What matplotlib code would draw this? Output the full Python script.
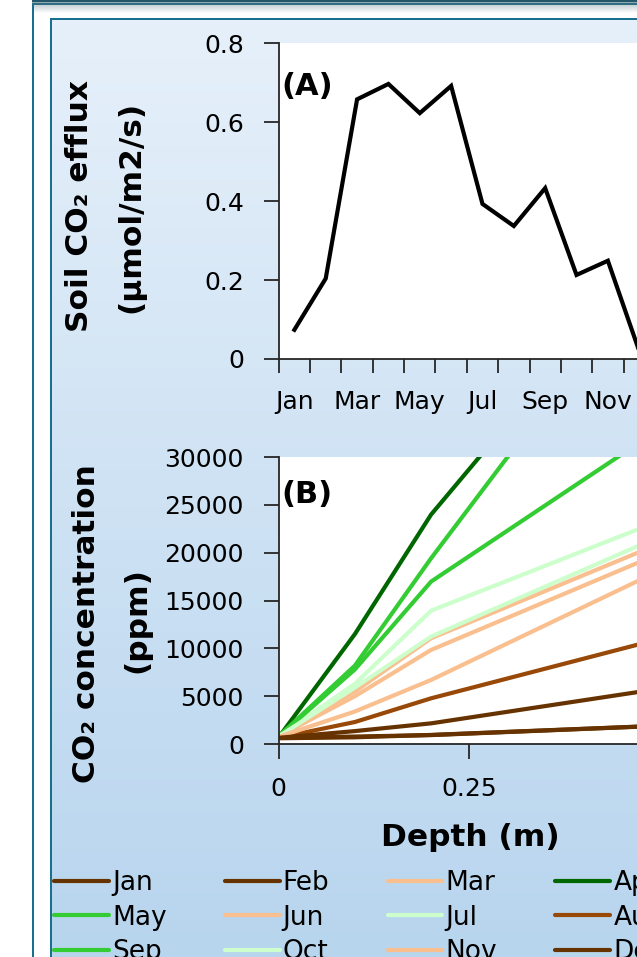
import numpy as np
import matplotlib
matplotlib.use('Agg')
import matplotlib.pyplot as plt
from matplotlib.patches import Rectangle
from matplotlib.colors import LinearSegmentedColormap

# ---------------- data ----------------
months = ['Jan', 'Feb', 'Mar', 'Apr', 'May', 'Jun',
          'Jul', 'Aug', 'Sep', 'Oct', 'Nov', 'Dec']
efflux = [0.074, 0.204, 0.658, 0.697, 0.623, 0.692,
          0.393, 0.337, 0.433, 0.213, 0.249, 0.02]
efflux_yticks = [0, 0.2, 0.4, 0.6, 0.8]
efflux_yticklabels = ['0', '0.2', '0.4', '0.6', '0.8']

depths = [0, 0.1, 0.2, 0.5]
co2_jan = [600, 700, 950, 1910]
co2_feb = [650, 780, 930, 1900]
co2_mar = [800, 5500, 11060, 20960]
co2_apr = [700, 11500, 24000, 52500]
co2_may = [800, 8200, 19430, 51100]
co2_jun = [800, 5000, 9840, 19920]
co2_jul = [800, 6300, 13950, 23350]
co2_aug = [650, 2300, 4780, 10990]
co2_sep = [800, 7800, 16990, 32950]
co2_oct = [800, 5900, 11240, 21700]
co2_nov = [750, 3400, 6700, 18150]
co2_dec = [650, 1350, 2160, 5780]
co2_yticks = [0, 5000, 10000, 15000, 20000, 25000, 30000]
depth_ticks = [0, 0.25]
depth_ticklabels = ['0', '0.25']

brown_dk = '#663300'
peach = '#FABF8F'
green_dk = '#006600'
green = '#33CC33'
green_lt = '#CCFFCC'
brown = '#984807'
month_colors = [brown_dk, brown_dk, peach, green_dk, green, peach,
                green_lt, brown, green, green_lt, peach, brown_dk]
co2_series = [co2_jan, co2_feb, co2_mar, co2_apr, co2_may, co2_jun,
              co2_jul, co2_aug, co2_sep, co2_oct, co2_nov, co2_dec]

# ---------------- figure ----------------
W, H = 637, 957
fig = plt.figure(figsize=(W / 100, H / 100), dpi=100)
plt.rcParams['font.family'] = ['DejaVu Sans']

def fx(px):
    return px / W

def fy(py):
    return 1 - py / H

# background decoration (pixel coordinates)
bg = fig.add_axes([0, 0, 1, 1], zorder=-10)
bg.set_xlim(0, W)
bg.set_ylim(H, 0)
bg.axis('off')
teal = '#19708E'
cm_panel = LinearSegmentedColormap.from_list('p', ['#E6F0FA', '#B8D5EE'])
grad = np.linspace(0, 1, 256).reshape(-1, 1)
bg.imshow(grad, extent=[52, W, H, 20], aspect='auto', cmap=cm_panel,
          origin='upper', interpolation='bilinear')
bg.add_patch(Rectangle((50, 18), 2, H - 18, color=teal, lw=0))
bg.add_patch(Rectangle((50, 18), W - 50, 2, color=teal, lw=0))
bg.add_patch(Rectangle((32, 3), 2, H - 3, color=teal, lw=0))
bg.add_patch(Rectangle((32, 0), W - 32, 1.5, color='#24566A', lw=0))
bg.add_patch(Rectangle((32, 1.5), W - 32, 1.5, color='#8EA8B2', lw=0))
bg.add_patch(Rectangle((32, 3), W - 32, 2, color='#2F6D82', lw=0))
cm_fade = LinearSegmentedColormap.from_list('f', ['#C5D1D6', '#FFFFFF'])
bg.imshow(grad, extent=[34, W, 13, 5], aspect='auto', cmap=cm_fade,
          origin='upper', interpolation='bilinear')

axis_col = '#262626'
tick_fs = 18
lab_fs = 22.5

# ---------------- panel A ----------------
ax_left = 278.7
a_top, a_bot = 43.3, 359.0
cat_w = 31.35
ax_a = fig.add_axes([fx(ax_left), fy(a_bot), 12 * cat_w / W, (a_bot - a_top) / H])
x_idx = np.arange(len(months))
ax_a.plot(x_idx, efflux, color='black', lw=3, solid_joinstyle='miter')
ax_a.set_xlim(-0.5, 11.5)
ax_a.set_ylim(0, 0.8)
ax_a.set_yticks(efflux_yticks)
ax_a.set_yticklabels(efflux_yticklabels)
ax_a.set_xticks(x_idx[::2])
ax_a.set_xticklabels(months[::2])
ax_a.set_xticks(np.arange(-0.5, 12, 1), minor=True)
ax_a.tick_params(axis='x', which='major', length=0, pad=22, labelsize=tick_fs)
ax_a.tick_params(axis='x', which='minor', length=10, width=1.3, color=axis_col)
ax_a.tick_params(axis='y', length=11, width=1.3, color=axis_col, pad=14,
                 labelsize=tick_fs)
for s in ['top', 'right']:
    ax_a.spines[s].set_visible(False)
for s in ['left', 'bottom']:
    ax_a.spines[s].set_color(axis_col)
    ax_a.spines[s].set_linewidth(1.3)
ax_a.annotate('(A)', xy=(0, 1), xycoords='axes fraction', xytext=(2, -20.5),
              textcoords='offset points', ha='left', va='top',
              fontsize=22, fontweight='bold')

fig.text(fx(79), fy(206.5), 'Soil CO\u2082 efflux', rotation=90, ha='center',
         va='center', fontsize=lab_fs, fontweight='bold')
fig.text(fx(130.5), fy(206.5), '(\u00b5mol/m2/s)', rotation=90, ha='center',
         va='center', fontsize=lab_fs, fontweight='bold')

# ---------------- panel B ----------------
b_top, b_bot = 457.2, 744.0
px_per_m = 762.0
ax_b = fig.add_axes([fx(ax_left), fy(b_bot), 0.5 * px_per_m / W, (b_bot - b_top) / H])
for name, vals, col in zip(months, co2_series, month_colors):
    ax_b.plot(depths, vals, color=col, lw=3, label=name, solid_capstyle='round')
ax_b.set_xlim(0, 0.5)
ax_b.set_ylim(0, 30000)
ax_b.set_yticks(co2_yticks)
ax_b.set_yticklabels([str(v) for v in co2_yticks])
ax_b.set_xticks(depth_ticks)
ax_b.set_xticklabels(depth_ticklabels)
ax_b.tick_params(axis='x', length=11, width=1.3, color=axis_col, pad=12.5,
                 labelsize=tick_fs)
ax_b.tick_params(axis='y', length=11, width=1.3, color=axis_col, pad=14,
                 labelsize=tick_fs)
for s in ['top', 'right']:
    ax_b.spines[s].set_visible(False)
for s in ['left', 'bottom']:
    ax_b.spines[s].set_color(axis_col)
    ax_b.spines[s].set_linewidth(1.3)
ax_b.annotate('(B)', xy=(0, 1), xycoords='axes fraction', xytext=(2, -16.5),
              textcoords='offset points', ha='left', va='top',
              fontsize=22, fontweight='bold')

fig.text(fx(86.5), fy(624), 'CO\u2082 concentration', rotation=90, ha='center',
         va='center', fontsize=lab_fs, fontweight='bold')
fig.text(fx(137), fy(620), '(ppm)', rotation=90, ha='center',
         va='center', fontsize=lab_fs, fontweight='bold')
fig.text(fx(470.5), fy(837), 'Depth (m)', ha='center', va='center',
         fontsize=lab_fs, fontweight='bold')

# ---------------- legend (row-major order like the original) ----------------
handles, labels = ax_b.get_legend_handles_labels()
ncol = 4
order = [r * ncol + c for c in range(ncol) for r in range(3)]
leg = fig.legend([handles[i] for i in order], [labels[i] for i in order],
                 ncol=ncol, loc='upper left',
                 bbox_to_anchor=(fx(54.0), fy(870)), bbox_transform=fig.transFigure,
                 frameon=False, fontsize=19, borderpad=0, borderaxespad=0,
                 handlelength=2.08, handletextpad=0.12, columnspacing=2.2,
                 labelspacing=0.33)
for ln in leg.get_lines():
    ln.set_linewidth(3)
    ln.set_solid_capstyle('round')

fig.savefig('out.png', dpi=100)
